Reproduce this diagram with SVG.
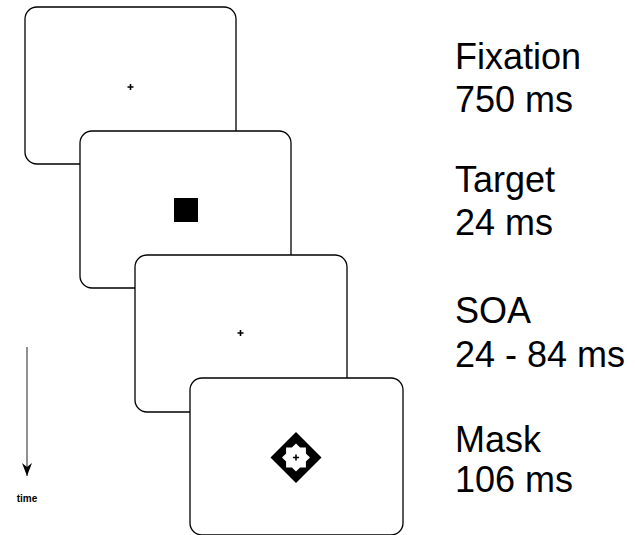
<svg xmlns="http://www.w3.org/2000/svg" width="635" height="535" viewBox="0 0 635 535">
<style>
.frame{fill:#fff;stroke:#000;stroke-width:1.3}
.lbl{font-family:"Liberation Sans",Arial,sans-serif;font-size:36px;fill:#000}
.cross{stroke:#000;stroke-width:1.6;fill:none}
</style>
<defs>
<marker id="ah" viewBox="0 0 13 10" refX="13" refY="5" markerWidth="13" markerHeight="10" markerUnits="userSpaceOnUse" orient="auto">
<path d="M0,0 L4,5 L0,10 L13,5 Z" fill="#000"/>
</marker>
</defs>
<rect width="635" height="535" fill="#fff"/>
<g id="frame-fixation">
<rect class="frame" x="25" y="7" width="211" height="157" rx="12"/>
<path class="cross" d="M127.5,87H133.5M130.5,84V90"/>
</g>
<g id="frame-target">
<rect class="frame" x="80" y="131" width="211" height="157" rx="12"/>
<rect x="174" y="198" width="24" height="24" fill="#000"/>
</g>
<g id="frame-soa">
<rect class="frame" x="135" y="255" width="212" height="157" rx="12"/>
<path class="cross" d="M237.5,333H243.5M240.5,330V336"/>
</g>
<g id="frame-mask">
<rect class="frame" x="190" y="378" width="213" height="157" rx="12"/>
<polygon points="296,432 321.5,457.5 296,483 270.5,457.5" fill="#000"/>
<polygon points="310,457.5 305.9,461.6 305.9,467.4 300.1,467.4 296,471.5 291.9,467.4 286.1,467.4 286.1,461.6 282,457.5 286.1,453.4 286.1,447.6 291.9,447.6 296,443.5 300.1,447.6 305.9,447.6 305.9,453.4" fill="#fff"/>
<path class="cross" d="M293,457.5H299M296,454.5V460.5"/>
</g>
<g id="connectors">
<line x1="27" y1="347" x2="27" y2="476" stroke="#555" stroke-width="1.3" marker-end="url(#ah)"/>
</g>
<g id="labels">
<text x="27" y="502" text-anchor="middle" font-family="Liberation Sans,Arial,sans-serif" font-size="10" font-weight="bold">time</text>
<text class="lbl" x="455" y="69">Fixation</text>
<text class="lbl" x="455" y="112">750 ms</text>
<text class="lbl" x="455" y="192">Target</text>
<text class="lbl" x="455" y="235">24 ms</text>
<text class="lbl" x="455" y="323">SOA</text>
<text class="lbl" x="455" y="367">24 - 84 ms</text>
<text class="lbl" x="455" y="452">Mask</text>
<text class="lbl" x="455" y="492">106 ms</text>
</g>
</svg>
